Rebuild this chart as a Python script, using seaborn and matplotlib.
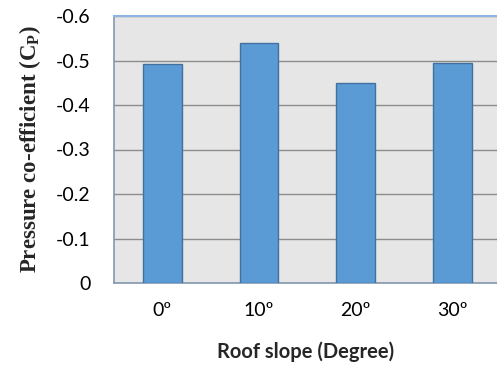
import matplotlib
matplotlib.use("Agg")
import matplotlib.pyplot as plt
import seaborn as sns
import pandas as pd

# Roof slope categories and measured pressure coefficients
slopes = ["0º", "10º", "20º", "30º"]
cp_values = [-0.492, -0.539, -0.449, -0.494]
y_ticks = [0, -0.1, -0.2, -0.3, -0.4, -0.5, -0.6]
y_tick_labels = ["0", "-0.1", "-0.2", "-0.3", "-0.4", "-0.5", "-0.6"]

sns.set_theme(style="white")
plt.rcParams["font.family"] = ["Lato", "DejaVu Sans"]

df = pd.DataFrame({"slope": slopes, "cp": cp_values})

fig = plt.figure(figsize=(4.97, 3.69), dpi=100)
ax = fig.add_axes([114 / 497, 86 / 369, 383 / 497, 267 / 369])
ax.set_facecolor("#E6E6E6")

sns.barplot(data=df, x="slope", y="cp", color="#5B9BD5", width=0.4,
            edgecolor="#41719C", linewidth=1.0, saturation=1, ax=ax, zorder=3)

ax.set_ylim(0, -0.6)
ax.set_xlim(-0.5, -0.5 + 383 / 96.7)
ax.set_yticks(y_ticks)
ax.set_yticklabels(y_tick_labels)
ax.yaxis.grid(True, color="#8C8C8C", linewidth=1.0, zorder=0)
ax.set_axisbelow(True)
ax.tick_params(axis="both", length=0, labelsize=14, colors="#000000")
ax.tick_params(axis="y", pad=17)
ax.tick_params(axis="x", pad=14)

ax.spines["top"].set_color("#8EB4E3")
ax.spines["top"].set_linewidth(1.5)
for side in ["left", "bottom"]:
    ax.spines[side].set_color("#8497B0")
    ax.spines[side].set_linewidth(1.2)
ax.spines["right"].set_visible(False)

ax.set_xlabel("Roof slope (Degree)", fontsize=14.5, fontweight="bold", labelpad=16)
ax.set_ylabel(r"Pressure co-efficient (C$_\mathregular{P}$)", fontsize=16.5,
              fontweight="bold", family="Liberation Serif", labelpad=9)

fig.savefig("out.png", dpi=100)
